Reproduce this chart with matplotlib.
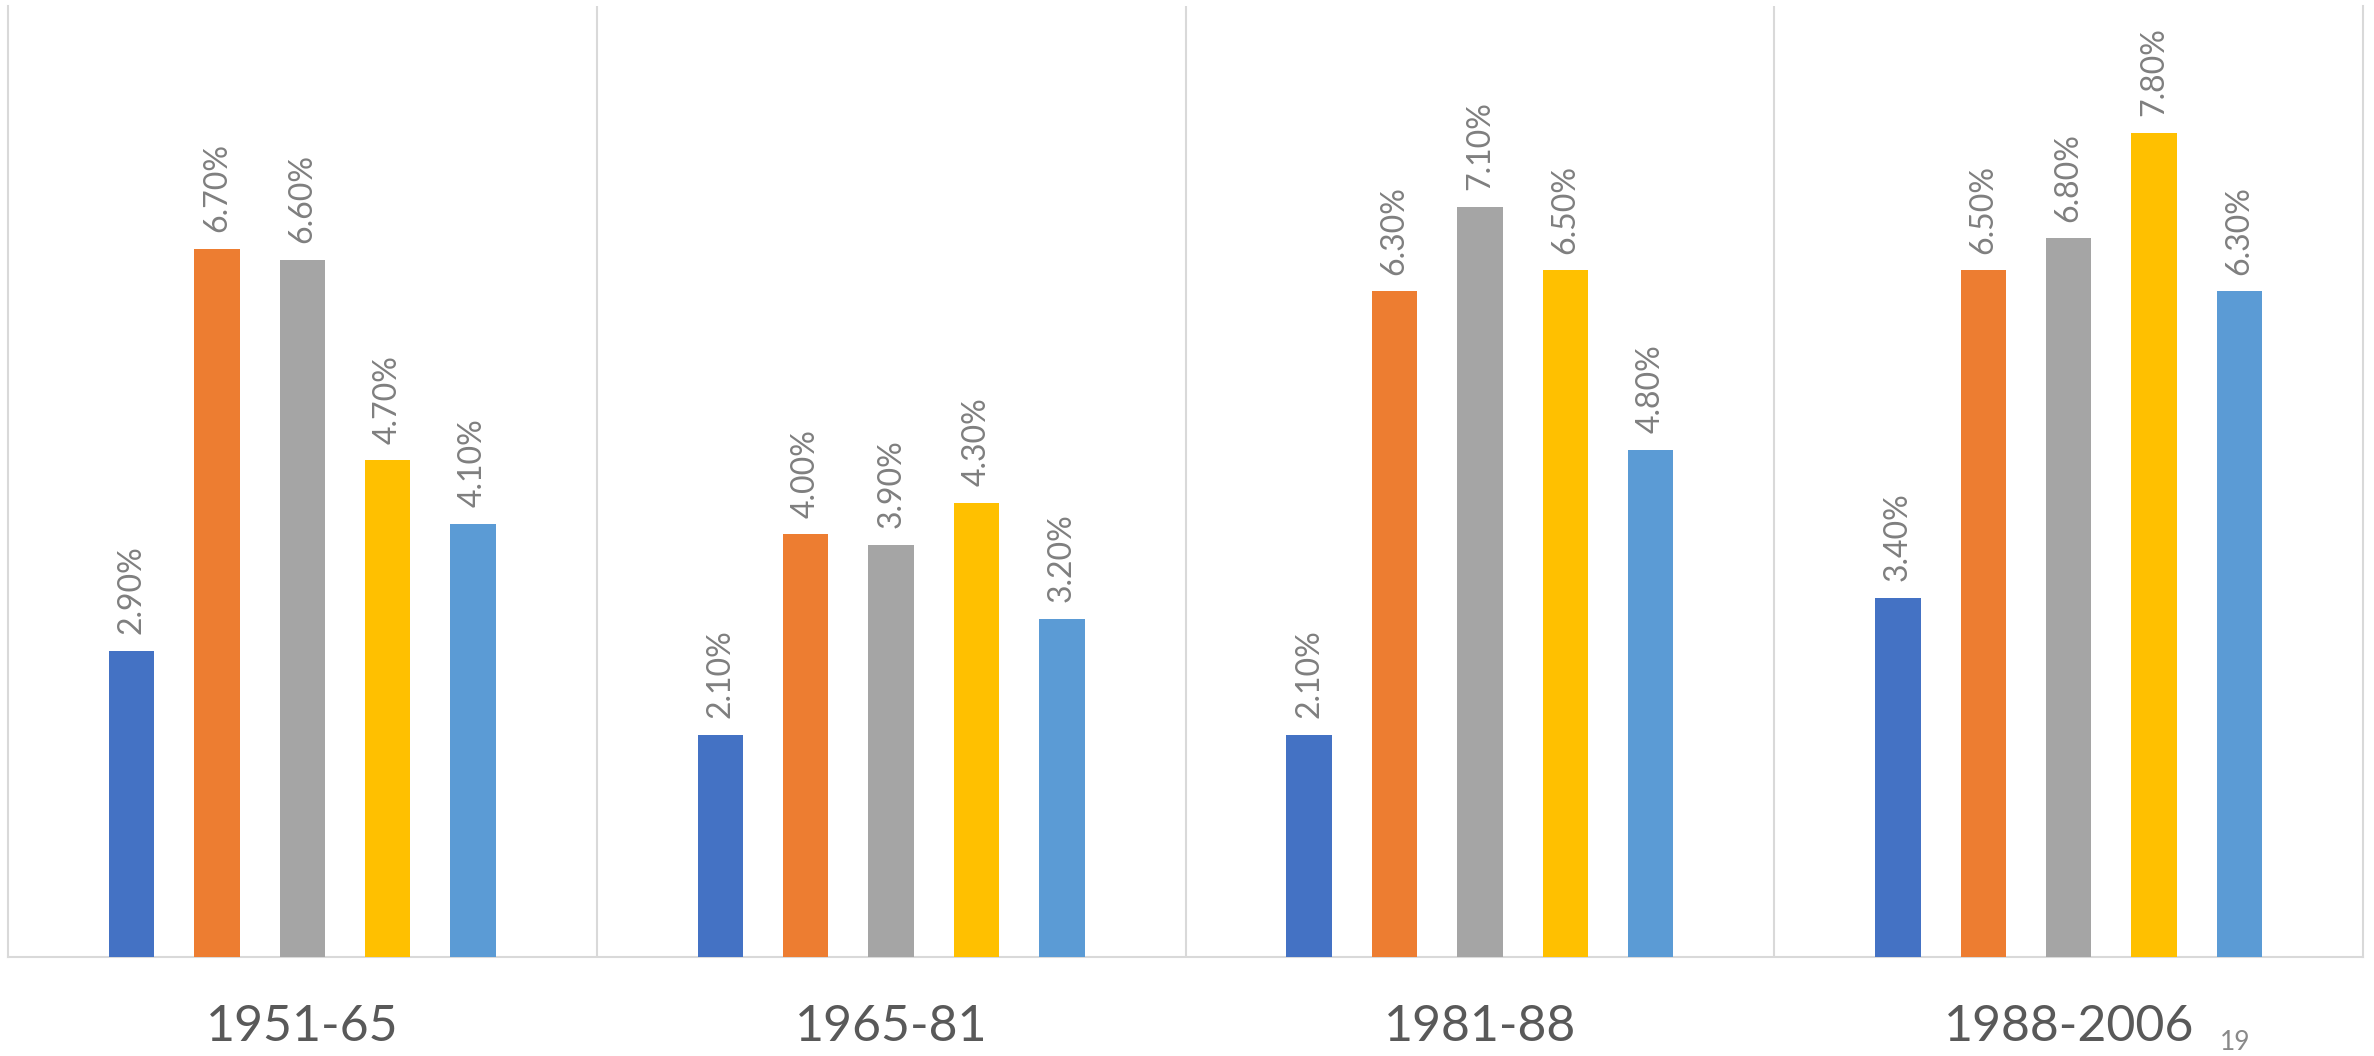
import matplotlib
matplotlib.use("Agg")
import matplotlib.pyplot as plt
import numpy as np

categories = ["1951-65", "1965-81", "1981-88", "1988-2006"]
series_a = [2.9, 2.1, 2.1, 3.4]
series_b = [6.7, 4.0, 6.3, 6.5]
series_c = [6.6, 3.9, 7.1, 6.8]
series_d = [4.7, 4.3, 6.5, 7.8]
series_e = [4.1, 3.2, 4.8, 6.3]
series = [series_a, series_b, series_c, series_d, series_e]
colors = ["#4472C4", "#ED7D31", "#A5A5A5", "#FFC000", "#5B9BD5"]

plt.rcParams['font.family'] = ['Lato', 'DejaVu Sans']

W, H = 2374, 1056
fig = plt.figure(figsize=(W / 100, H / 100), dpi=100)
ax = fig.add_axes([8 / W, 1 - 957 / H, (2363 - 8) / W, (957 - 6) / H])

x = np.arange(len(categories))
width = 0.077
step = 0.145
for i, (vals, col) in enumerate(zip(series, colors)):
    xs = x + (i - 2) * step
    ax.bar(xs, vals, width=width, color=col, zorder=3)
    for xi, v in zip(xs, vals):
        ax.annotate(f"{v:.2f}%", (xi, v), xytext=(0, 12), textcoords="offset points",
                    rotation=90, ha="center", va="bottom", fontsize=23, color="#7F7F7F")

ax.set_xlim(-0.5, len(categories) - 0.5)
ax.set_ylim(0, 9)
ax.set_yticks([])
ax.set_xticks(x)
ax.set_xticklabels(categories, fontsize=36, color="#595959")
ax.tick_params(axis="x", length=0, pad=34)
for b in np.arange(0.5, len(categories) - 0.5, 1):
    ax.axvline(b, color="#D9D9D9", lw=1.5, zorder=1)
for s in ax.spines.values():
    s.set_color("#D9D9D9")
    s.set_linewidth(1.5)
ax.spines["top"].set_visible(False)

fig.text(2235 / W, 1 - 1042 / H, "19", fontsize=19, color="#898989", ha="center", va="center")

fig.savefig("out.png", dpi=100)
